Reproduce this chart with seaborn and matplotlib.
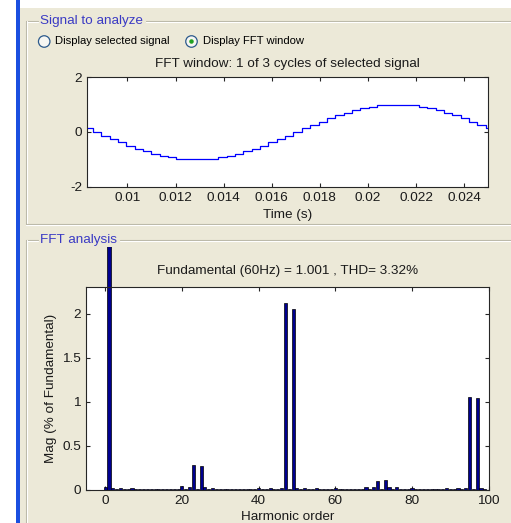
import matplotlib
matplotlib.use("Agg")
import matplotlib.pyplot as plt
import seaborn as sns
import pandas as pd
from matplotlib.patches import Rectangle, Ellipse
from matplotlib.lines import Line2D
from matplotlib.transforms import Bbox, TransformedBbox

# ----- FFT window signal (staircase) -----
time_s = [0.00822, 0.00857, 0.00892, 0.00926, 0.00961, 0.00996, 0.01031, 0.01065,
          0.01100, 0.01135, 0.01170, 0.01204, 0.01239, 0.01274, 0.01308, 0.01343,
          0.01378, 0.01413, 0.01447, 0.01482, 0.01517, 0.01551, 0.01586, 0.01621,
          0.01656, 0.01690, 0.01725, 0.01760, 0.01795, 0.01829, 0.01864, 0.01899,
          0.01934, 0.01968, 0.02003, 0.02038, 0.02072, 0.02107, 0.02142, 0.02177,
          0.02211, 0.02246, 0.02281, 0.02315, 0.02350, 0.02385, 0.02420, 0.02454,
          0.02489, 0.02524]
signal = [0.13, 0.0, -0.13, -0.26, -0.38, -0.50, -0.61, -0.71, -0.79, -0.87,
          -0.92, -0.97, -0.99, -1.00, -0.99, -0.97, -0.92, -0.87, -0.79, -0.71,
          -0.61, -0.50, -0.38, -0.26, -0.13, 0.0, 0.13, 0.26, 0.38, 0.50,
          0.61, 0.71, 0.79, 0.87, 0.92, 0.97, 0.99, 1.00, 0.99, 0.97,
          0.92, 0.87, 0.79, 0.71, 0.61, 0.50, 0.38, 0.26, 0.13, 0.0]
time_ticks = [0.01, 0.012, 0.014, 0.016, 0.018, 0.02, 0.022, 0.024]
time_tick_labels = ["0.01", "0.012", "0.014", "0.016", "0.018", "0.02", "0.022", "0.024"]
signal_ticks = [-2, 0, 2]

# ----- FFT spectrum (% of fundamental) -----
harmonic_order = list(range(100))
magnitude = [
    0.03, 100.0, 0.02, 0.01, 0.02, 0.01, 0.01, 0.02, 0.01, 0.01,   # 0-9
    0.01, 0.01, 0.01, 0.01, 0.01, 0.01, 0.01, 0.01, 0.01, 0.01,    # 10-19
    0.04, 0.01, 0.03, 0.28, 0.01, 0.27, 0.03, 0.01, 0.02, 0.01,    # 20-29
    0.01, 0.01, 0.01, 0.01, 0.01, 0.01, 0.01, 0.01, 0.01, 0.01,    # 30-39
    0.02, 0.01, 0.01, 0.02, 0.01, 0.01, 0.02, 2.12, 0.01, 2.05,    # 40-49
    0.02, 0.01, 0.02, 0.01, 0.01, 0.02, 0.01, 0.01, 0.01, 0.01,    # 50-59
    0.02, 0.01, 0.01, 0.01, 0.01, 0.01, 0.01, 0.01, 0.03, 0.01,    # 60-69
    0.03, 0.10, 0.01, 0.11, 0.03, 0.01, 0.03, 0.01, 0.01, 0.01,    # 70-79
    0.02, 0.01, 0.01, 0.01, 0.01, 0.01, 0.01, 0.01, 0.01, 0.02,    # 80-89
    0.01, 0.01, 0.02, 0.01, 0.02, 1.05, 0.01, 1.04, 0.02, 0.01,    # 90-99
]
order_ticks = [0, 20, 40, 60, 80, 100]
mag_ticks = [0, 0.5, 1, 1.5, 2]
mag_tick_labels = ["0", "0.5", "1", "1.5", "2"]

fundamental_text = "Fundamental (60Hz) = 1.001 , THD= 3.32%"
window_text = "FFT window: 1 of 3 cycles of selected signal"

W, H = 511, 523
BEIGE = "#ECE9D8"
PANEL_BLUE = "#3A3AC4"
TXT = "#1a1a1a"


def fx(x):
    return x / W


def fy(y):
    return 1 - y / H


sns.set_theme(style="ticks")
plt.rcParams["font.family"] = ["Liberation Sans", "DejaVu Sans"]
plt.rcParams["axes.unicode_minus"] = False

fig = plt.figure(figsize=(W / 100, H / 100), dpi=100, facecolor="white")

# ----- window chrome -----
fig.add_artist(Rectangle((fx(20), 0), 1 - fx(20), fy(8), transform=fig.transFigure,
                         facecolor=BEIGE, edgecolor="none", zorder=-5))
fig.add_artist(Rectangle((fx(16), 0), 4 / W, 1, transform=fig.transFigure,
                         facecolor="#1A4FE0", edgecolor="none", zorder=-4))


def hline(x0, x1, y):
    fig.add_artist(Line2D([fx(x0), fx(x1)], [fy(y), fy(y)], transform=fig.transFigure,
                          color="#B9B6A6", lw=0.8))
    fig.add_artist(Line2D([fx(x0), fx(x1)], [fy(y + 1), fy(y + 1)], transform=fig.transFigure,
                          color="white", lw=0.8))


def vline(x, y0, y1):
    fig.add_artist(Line2D([fx(x), fx(x)], [fy(y0), fy(y1)], transform=fig.transFigure,
                          color="#B9B6A6", lw=0.8))
    fig.add_artist(Line2D([fx(x + 1), fx(x + 1)], [fy(y0), fy(y1)], transform=fig.transFigure,
                          color="white", lw=0.8))


# panel "Signal to analyze"
hline(26, 38, 21)
hline(146, W, 21)
vline(26, 21, 224)
hline(26, W, 224)
fig.text(fx(40), fy(21), "Signal to analyze", color=PANEL_BLUE, fontsize=9.7,
         ha="left", va="center")

# panel "FFT analysis"
hline(26, 38, 240)
hline(120, W, 240)
vline(26, 240, H)
fig.text(fx(40), fy(240), "FFT analysis", color=PANEL_BLUE, fontsize=9.7,
         ha="left", va="center")

# radio buttons
for cx in (44.2, 191.5):
    fig.add_artist(Ellipse((fx(cx), fy(41.5)), 11.5 / W, 11.5 / H, transform=fig.transFigure,
                           facecolor="#F6F6F2", edgecolor="#2C5A8C", lw=0.9))
fig.add_artist(Ellipse((fx(191.5), fy(41.5)), 4.5 / W, 4.5 / H, transform=fig.transFigure,
                       facecolor="#21A121", edgecolor="none"))
fig.text(fx(55), fy(41.5), "Display selected signal", fontsize=8.1, color="black",
         ha="left", va="center")
fig.text(fx(202.5), fy(41.5), "Display FFT window", fontsize=8.1, color="black",
         ha="left", va="center")

# ----- top axes: FFT window signal -----
ax1 = fig.add_axes([fx(87.3), fy(186.7), (488.3 - 87.3) / W, (186.7 - 77.3) / H])
ax1.set_facecolor("white")
sns.lineplot(x=time_s, y=signal, drawstyle="steps-post", estimator=None, sort=False,
             color="#0000FF", lw=0.9, ax=ax1)
ax1.set_xlim(0.0083333, 0.025)
ax1.set_ylim(-2, 2)
ax1.set_xticks(time_ticks)
ax1.set_xticklabels(time_tick_labels)
ax1.set_yticks(signal_ticks)
ax1.set_xlabel("Time (s)", fontsize=9.7, color=TXT)
ax1.xaxis.set_label_coords(0.5, -0.2)
fig.text(fx(287.8), fy(64), window_text, fontsize=9.7, color=TXT, ha="center", va="center")

# ----- bottom axes: spectrum -----
ax2 = fig.add_axes([fx(86), fy(490), (488.7 - 86) / W, (490 - 286.5) / H])
ax2.set_facecolor("white")
df = pd.DataFrame({"order": harmonic_order, "mag": magnitude})
sns.barplot(data=df, x="order", y="mag", native_scale=True, width=0.8, errorbar=None,
            color="#000090", saturation=1, edgecolor="black", linewidth=0.5, ax=ax2)
ax2.set_xlim(-5, 100)
ax2.set_ylim(0, 2.307)
ax2.set_xticks(order_ticks)
ax2.set_xticklabels([str(t) for t in order_ticks])
ax2.set_yticks(mag_ticks)
ax2.set_yticklabels(mag_tick_labels)
ax2.set_xlabel("Harmonic order", fontsize=9.7, color=TXT)
ax2.xaxis.set_label_coords(0.5, -0.105)
ax2.set_ylabel("Mag (% of Fundamental)", fontsize=9.7, color=TXT)
ax2.yaxis.set_label_coords(-0.073, 0.5)
fig.text(fx(287.5), fy(271), fundamental_text, fontsize=9.7, color=TXT,
         ha="center", va="center")

# fundamental bar pokes out of the axes, cut by the panel
panel_clip = TransformedBbox(Bbox.from_extents(0, 0, 1, fy(247)), fig.transFigure)
for bar in ax2.patches:
    if bar.get_height() > 10:
        bar.set_clip_path(None)
        bar.set_clip_box(panel_clip)

for ax in (ax1, ax2):
    for sp in ax.spines.values():
        sp.set_visible(True)
        sp.set_color("#262626")
        sp.set_linewidth(0.8)
    ax.tick_params(direction="in", length=3, width=0.8, top=True, right=True,
                   labelsize=9.7, labelcolor=TXT, color="#262626", pad=3.6)
    ax.grid(False)

fig.savefig("out.png", dpi=100, facecolor=fig.get_facecolor())
